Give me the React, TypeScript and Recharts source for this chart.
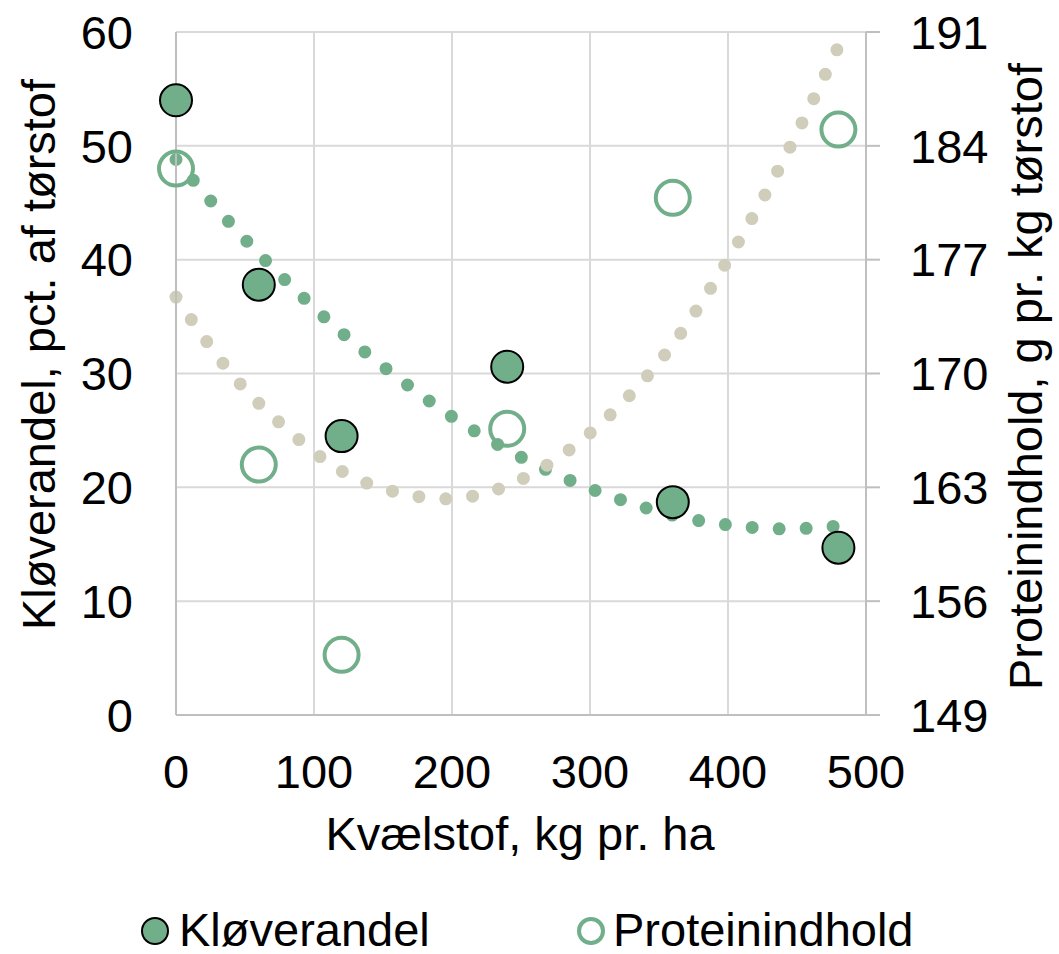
import { ComposedChart, Scatter, Line, XAxis, YAxis, CartesianGrid, Legend } from 'recharts';

const FONT = '"Liberation Sans", Arial, sans-serif';
const GREEN = '#71ae8a';
const GREY_TREND = '#d0cdbb';
const AXIS = '#bfbfbf';
const GRID = '#d9d9d9';

// kg N pr. ha
const nitrogen = [0, 60, 120, 240, 360, 480];
// Kløverandel, pct. af tørstof (left axis)
const cloverShare = [54.0, 37.8, 24.5, 30.6, 18.7, 14.7];
// Proteinindhold, g pr. kg tørstof (right axis)
const protein = [182.6, 164.4, 152.7, 166.6, 180.8, 185.0];

// dotted trendlines
const trendX = [0, 40, 80, 120, 160, 200, 240, 280, 320, 360, 400, 440, 480];
const cloverTrend = [48.8, 43.1, 38.1, 33.6, 29.7, 26.2, 23.3, 20.9, 19.0, 17.55, 16.7, 16.35, 16.6];
const proteinTrend = [174.7, 170.0, 166.6, 164.0, 162.7, 162.3, 163.1, 165.0, 167.9, 171.8, 177.0, 183.1, 190.1];

const xTicks = [0, 100, 200, 300, 400, 500];
const leftTicks = [0, 10, 20, 30, 40, 50, 60];
const rightTicks = [149, 156, 163, 170, 177, 184, 191];

const seriesNames = ['Kløverandel', 'Proteinindhold'];

const cloverData = nitrogen.map((x, i) => ({ x, y: cloverShare[i] }));
const proteinData = nitrogen.map((x, i) => ({ x, y: protein[i] }));
const cloverTrendData = trendX.map((x, i) => ({ x, y: cloverTrend[i] }));
const proteinTrendData = trendX.map((x, i) => ({ x, y: proteinTrend[i] }));

const tickStyle = { fontSize: 47, fill: '#000', fontFamily: FONT };

const FilledDot = (props: any) => (
  <circle cx={props.cx} cy={props.cy} r={16} fill={GREEN} stroke="#000" strokeWidth={2} />
);

const HollowDot = (props: any) => (
  <circle cx={props.cx} cy={props.cy} r={17} fill="none" stroke={GREEN} strokeWidth={4} />
);

const LegendBox = () => (
  <svg width={1059} height={60} style={{ display: 'block', overflow: 'visible' }}>
    <circle cx={155} cy={37} r={13} fill={GREEN} stroke="#000" strokeWidth={2} />
    <text x={179} y={52} fontSize={47} fontFamily={FONT} fill="#000">{seriesNames[0]}</text>
    <circle cx={591} cy={37} r={12} fill="none" stroke={GREEN} strokeWidth={4} />
    <text x={613} y={52} fontSize={47} fontFamily={FONT} fill="#000">{seriesNames[1]}</text>
  </svg>
);

export default function App() {
  return (
    <div style={{ position: 'absolute', left: 0, top: 0, background: '#fff' }}>
      <ComposedChart width={1059} height={954} margin={{ top: 32, right: 0, left: 0, bottom: 0 }}>
        <CartesianGrid yAxisId="left" stroke={GRID} strokeWidth={2} />
        <XAxis
          dataKey="x"
          type="number"
          domain={[0, 500]}
          ticks={xTicks}
          height={179}
          tickSize={0}
          tickMargin={40}
          tickLine={false}
          axisLine={{ stroke: AXIS, strokeWidth: 2 }}
          tick={tickStyle}
          label={{
            content: ({ viewBox }: any) => (
              <text
                x={viewBox.x + viewBox.width / 2 - 1}
                y={viewBox.y + 135}
                textAnchor="middle"
                fontSize={47}
                fontFamily={FONT}
                fill="#000"
              >
                Kvælstof, kg pr. ha
              </text>
            ),
          }}
        />
        <YAxis
          yAxisId="left"
          type="number"
          domain={[0, 60]}
          ticks={leftTicks}
          width={176}
          tickSize={0}
          tickMargin={43}
          tickLine={false}
          axisLine={{ stroke: AXIS, strokeWidth: 2 }}
          tick={tickStyle}
          label={{
            content: ({ viewBox }: any) => {
              const cx = viewBox.x + 55;
              const cy = viewBox.y + viewBox.height / 2 - 19;
              return (
                <text
                  x={cx}
                  y={cy}
                  transform={`rotate(-90, ${cx}, ${cy})`}
                  textAnchor="middle"
                  fontSize={47}
                  fontFamily={FONT}
                  fill="#000"
                >
                  Kløverandel, pct. af tørstof
                </text>
              );
            },
          }}
        />
        <YAxis
          yAxisId="right"
          orientation="right"
          type="number"
          domain={[149, 191]}
          ticks={rightTicks}
          width={193}
          tickSize={14}
          tickMargin={30}
          tickLine={{ stroke: AXIS, strokeWidth: 2 }}
          axisLine={{ stroke: AXIS, strokeWidth: 2 }}
          tick={{ ...tickStyle, textAnchor: 'start' }}
          label={{
            content: ({ viewBox }: any) => {
              const cx = viewBox.x + 176;
              const cy = viewBox.y + viewBox.height / 2 + 3;
              return (
                <text
                  x={cx}
                  y={cy}
                  transform={`rotate(-90, ${cx}, ${cy})`}
                  textAnchor="middle"
                  fontSize={47}
                  fontFamily={FONT}
                  fill="#000"
                >
                  Proteinindhold, g pr. kg tørstof
                </text>
              );
            },
          }}
        />
        <Legend verticalAlign="bottom" content={() => <LegendBox />} wrapperStyle={{ left: 0, bottom: 0, width: 1059 }} />
        <Scatter
          name={seriesNames[0]}
          data={cloverData}
          dataKey="y"
          yAxisId="left"
          shape={FilledDot}
          isAnimationActive={false}
        />
        <Scatter
          name={seriesNames[1]}
          data={proteinData}
          dataKey="y"
          yAxisId="right"
          shape={HollowDot}
          isAnimationActive={false}
        />
        <Line
          data={cloverTrendData}
          dataKey="y"
          yAxisId="left"
          type="natural"
          stroke={GREEN}
          strokeWidth={13}
          strokeLinecap="round"
          strokeDasharray="0 27"
          dot={false}
          activeDot={false}
          legendType="none"
          isAnimationActive={false}
        />
        <Line
          data={proteinTrendData}
          dataKey="y"
          yAxisId="right"
          type="natural"
          stroke={GREY_TREND}
          strokeWidth={13}
          strokeLinecap="round"
          strokeDasharray="0 27"
          dot={false}
          activeDot={false}
          legendType="none"
          isAnimationActive={false}
        />
      </ComposedChart>
    </div>
  );
}
